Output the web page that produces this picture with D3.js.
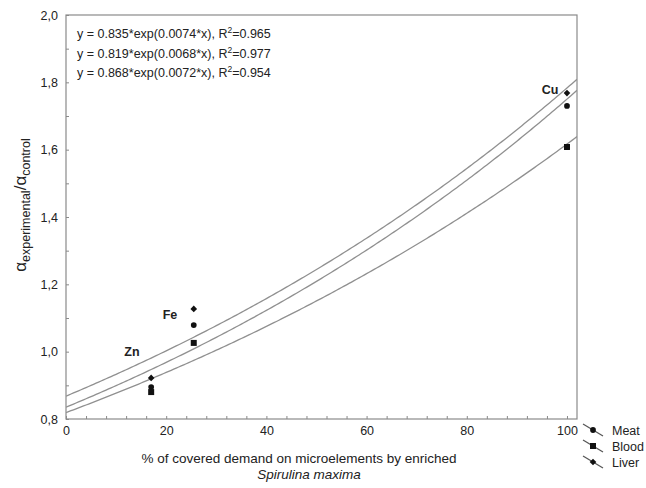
<!DOCTYPE html>
<html><head><meta charset="utf-8">
<script src="https://cdn.jsdelivr.net/npm/d3@7"></script>
<style>body{margin:0;background:#fff}svg{display:block;font-family:"Liberation Sans",Arial,sans-serif}</style>
</head><body><svg id="c" width="646" height="488"></svg>
<script>
// Data
const elements = ["Zn", "Fe", "Cu"];
const coverage = [17, 25.5, 100];
const meat  = [0.895, 1.079, 1.730];
const blood = [0.880, 1.026, 1.608];
const liver = [0.922, 1.127, 1.768];
// fitted curves as printed on the chart: y = a*exp(b*x)
const fitA  = [0.835, 0.819, 0.868];
const fitB  = [0.0074, 0.0068, 0.0072];
const fitR2 = ["0.965", "0.977", "0.954"];
const xTicks = [0, 20, 40, 60, 80, 100];
const yTicks = [0.8, 1.0, 1.2, 1.4, 1.6, 1.8, 2.0];
const seriesNames = ["Meat", "Blood", "Liver"];

const svg = d3.select("#c");
const L = 66, R = 577, T = 15, B = 419;
const x = d3.scaleLinear().domain([0, 102]).range([L, R]);
const y = d3.scaleLinear().domain([0.8, 2.0]).range([B, T]);
const frame = "#8a8a8a", ink = "#222";

// frame
svg.append("rect").attr("x", L).attr("y", T).attr("width", R - L).attr("height", B - T)
  .attr("fill", "none").attr("stroke", frame).attr("stroke-width", 1.2);

// axes with inward ticks
const fmt = d => d3.format(".1f")(d).replace(".", ",");
const yAx = svg.append("g").attr("transform", `translate(${L},0)`)
  .call(d3.axisRight(y).tickValues(d3.range(0.8, 2.001, 0.1)).tickSize(3).tickFormat(""));
yAx.select(".domain").remove();
yAx.selectAll("line").attr("stroke", frame);
const yLab = svg.append("g").attr("transform", `translate(${L},0)`)
  .call(d3.axisLeft(y).tickValues(yTicks).tickSize(0).tickPadding(8).tickFormat(fmt));
yLab.select(".domain").remove();
yLab.selectAll("text").attr("font-size", 12.5).attr("fill", ink).attr("font-family", "Liberation Sans, Arial");

const xAx = svg.append("g").attr("transform", `translate(0,${B})`)
  .call(d3.axisTop(x).tickValues(d3.range(0, 101, 4)).tickSize(3).tickFormat(""));
xAx.select(".domain").remove();
xAx.selectAll("line").attr("stroke", frame);
const xLab = svg.append("g").attr("transform", `translate(0,${B})`)
  .call(d3.axisBottom(x).tickValues(xTicks).tickSize(0).tickPadding(7).tickFormat(d3.format("d")));
xLab.select(".domain").remove();
xLab.selectAll("text").attr("font-size", 12.5).attr("fill", ink).attr("font-family", "Liberation Sans, Arial");

// fitted curves
const xs = d3.range(0, 102.01, 0.5);
svg.append("clipPath").attr("id", "pc").append("rect")
  .attr("x", L).attr("y", T).attr("width", R - L).attr("height", B - T);
const line = d3.line().x(d => x(d[0])).y(d => y(d[1]));
fitA.forEach((a, i) => {
  svg.append("path").datum(xs.map(v => [v, a * Math.exp(fitB[i] * v)]))
    .attr("d", line).attr("fill", "none").attr("stroke", "#909090").attr("stroke-width", 1.3)
    .attr("clip-path", "url(#pc)");
});

// markers
const sym = {
  Meat: {s: d3.symbol().type(d3.symbolCircle).size(26), r: 0},
  Blood: {s: d3.symbol().type(d3.symbolSquare).size(36), r: 0},
  Liver: {s: d3.symbol().type(d3.symbolSquare).size(22), r: 45}
};
const seriesVals = {Meat: meat, Blood: blood, Liver: liver};
seriesNames.forEach(n => {
  svg.append("g").selectAll("path").data(coverage).join("path")
    .attr("transform", (d, i) => `translate(${x(d)},${y(seriesVals[n][i])}) rotate(${sym[n].r})`)
    .attr("d", sym[n].s()).attr("fill", "#111");
});

// element labels
const elPos = [[132, 356], [170, 319], [550, 94]];
elements.forEach((e, i) => {
  svg.append("text").attr("x", elPos[i][0]).attr("y", elPos[i][1]).attr("text-anchor", "middle")
    .attr("font-size", 12.5).attr("font-weight", "bold").attr("fill", ink).text(e);
});

// equations
fitA.forEach((a, i) => {
  const t = svg.append("text").attr("x", 77).attr("y", 38 + i * 19.5)
    .attr("font-size", 12.5).attr("fill", ink);
  t.append("tspan").text(`y = ${a.toFixed(3)}*exp(${fitB[i].toFixed(4)}*x), R`);
  t.append("tspan").attr("font-size", 8.5).attr("dy", -5).text("2");
  t.append("tspan").attr("dy", 5).text(`=${fitR2[i]}`);
});

// legend
const legY = [430, 446, 462];
seriesNames.forEach((n, i) => {
  const g = svg.append("g").attr("transform", `translate(593,${legY[i]})`);
  g.append("line").attr("x1", -10).attr("y1", -6).attr("x2", 10).attr("y2", 6)
    .attr("stroke", "#555").attr("stroke-width", 1.2);
  g.append("path").attr("d", sym[n].s()).attr("transform", `rotate(${sym[n].r})`).attr("fill", "#111");
  g.append("text").attr("x", 19).attr("y", 4.5).attr("font-size", 12.5).attr("fill", ink).text(n);
});

// x axis title
svg.append("text").attr("x", 299).attr("y", 463).attr("text-anchor", "middle")
  .attr("font-size", 13.5).attr("fill", ink).text("% of covered demand on microelements by enriched");
svg.append("text").attr("x", 309).attr("y", 479).attr("text-anchor", "middle")
  .attr("font-size", 13.5).attr("font-style", "italic").attr("fill", ink).text("Spirulina maxima");

// y axis title
const yt = svg.append("text").attr("transform", "translate(26,205) rotate(-90)")
  .attr("text-anchor", "middle").attr("fill", ink).attr("font-size", 17);
yt.append("tspan").text("α");
yt.append("tspan").attr("font-size", 12.5).attr("dy", 4).text("experimental");
yt.append("tspan").attr("dy", -4).text("/α");
yt.append("tspan").attr("font-size", 12.5).attr("dy", 4).text("control");
</script></body></html>
